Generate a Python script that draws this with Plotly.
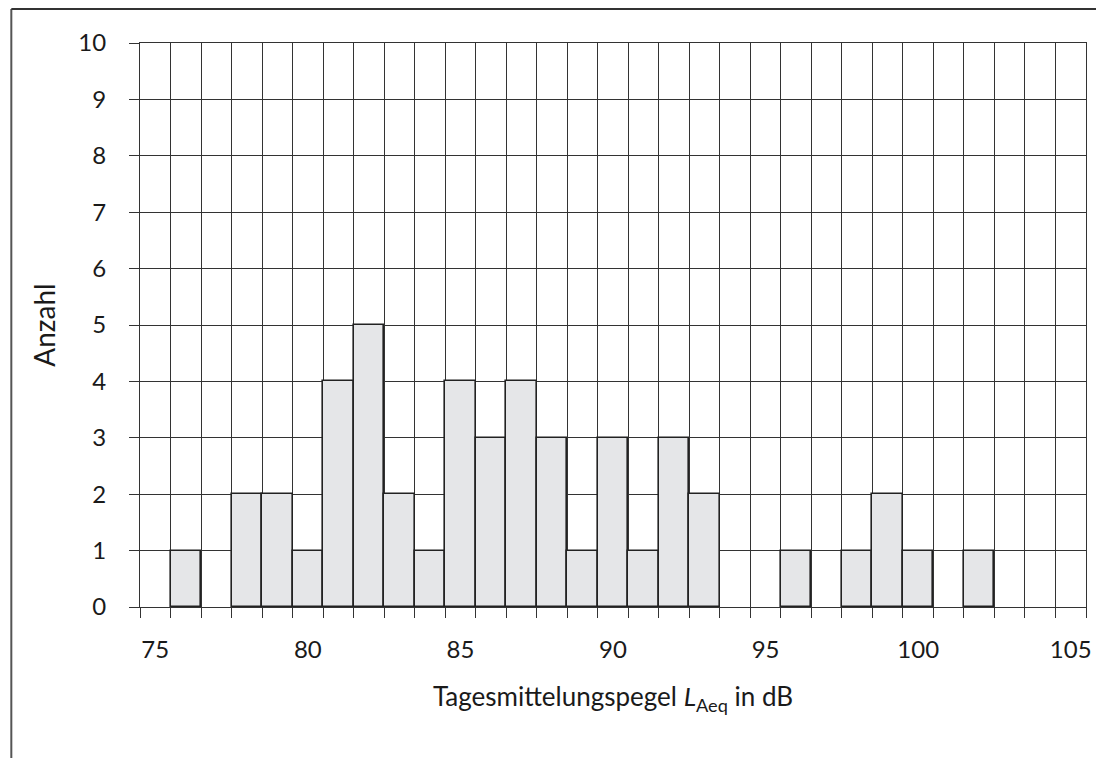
import plotly.graph_objects as go

# Data
levels_db = list(range(75, 106))
counts = [0, 1, 0, 2, 2, 1, 4, 5, 2, 1, 4, 3, 4, 3, 1, 3, 1, 3, 2, 0, 0, 1, 0, 1, 2, 1, 0, 1, 0, 0, 0]
x_tick_vals = [75, 80, 85, 90, 95, 100, 105]
y_tick_vals = list(range(0, 11))

x_title = "Tagesmittelungspegel <i>L</i><sub>Aeq</sub> in dB"
y_title = "Anzahl"

FONT = "Lato"
LINE = "#333333"

# page body has an 8px margin: the figure starts at (8, 8)
W, H = 1096, 750
L, R, T, B = 132, 12, 35, 151

fig = go.Figure()
fig.add_trace(go.Bar(
    x=levels_db, y=[c if c > 0 else None for c in counts], width=1,
    marker=dict(color="#e5e6e8", line=dict(color="#222222", width=1.6)),
    showlegend=False,
))

fig.update_layout(
    width=W, height=H,
    margin=dict(l=L, r=R, t=T, b=B),
    paper_bgcolor="white", plot_bgcolor="white",
    font=dict(family=FONT, size=24, color="#1a1a1a"),
    bargap=0,
    xaxis=dict(
        range=[74.5, 105.5],
        tickmode="array", tickvals=x_tick_vals, ticks="",
        showgrid=False, zeroline=False,
        showline=True, mirror=True, linecolor=LINE, linewidth=1,
        ticklabelstandoff=21,
        minor=dict(tickmode="linear", tick0=74.5, dtick=1, showgrid=True,
                   gridcolor=LINE, gridwidth=1, ticks="outside", ticklen=10,
                   tickcolor=LINE, tickwidth=1),
        title=dict(text=x_title, font=dict(size=26), standoff=26),
    ),
    yaxis=dict(
        range=[0, 10],
        tickmode="array", tickvals=y_tick_vals,
        ticks="outside", ticklen=10, tickcolor=LINE, tickwidth=1,
        showgrid=True, gridcolor=LINE, gridwidth=1,
        zeroline=True, zerolinecolor=LINE, zerolinewidth=1,
        showline=True, mirror=True, linecolor=LINE, linewidth=1,
        ticklabelstandoff=18,
        title=dict(text=y_title, font=dict(size=28), standoff=14),
    ),
)

# outer frame (left and top edges)
pw, ph = W - L - R, H - T - B
x_left = (2.5 - L) / pw
y_top = (H - B - 1.0) / ph
y_bot = -(B + 20) / ph
fig.add_shape(type="line", xref="paper", yref="paper", x0=x_left, x1=x_left, y0=y_bot, y1=y_top,
              line=dict(color="#555555", width=2))
fig.add_shape(type="line", xref="paper", yref="paper", x0=x_left, x1=(W + 20 - L) / pw, y0=y_top, y1=y_top,
              line=dict(color="#333333", width=2))

fig.write_html("out.html")
